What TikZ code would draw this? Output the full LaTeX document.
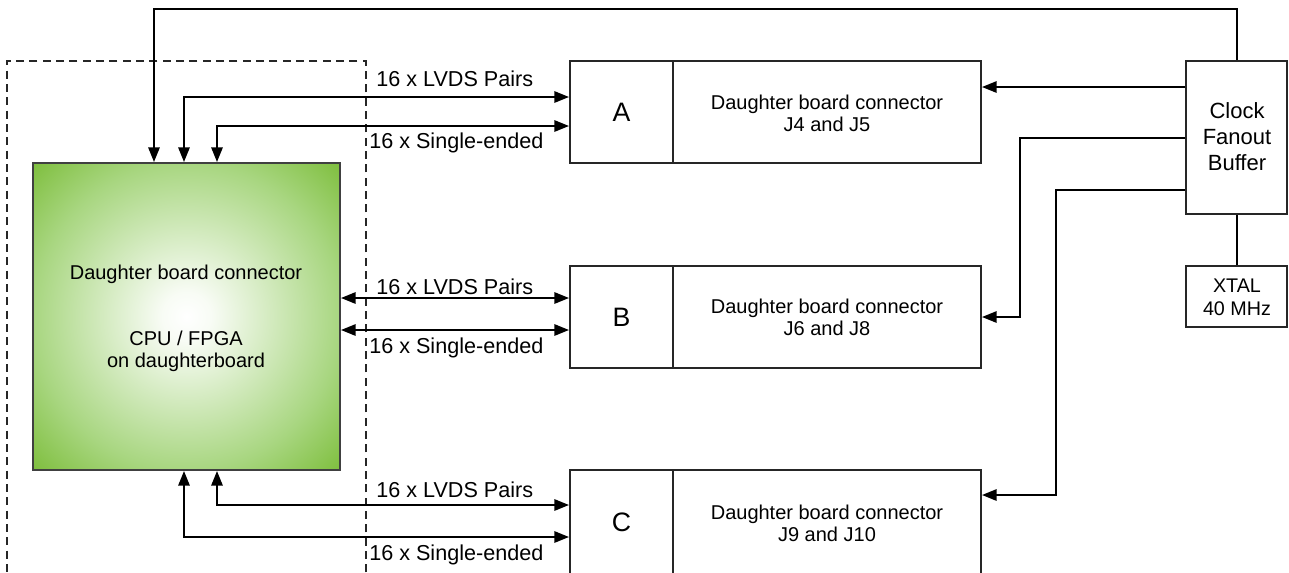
\documentclass[tikz,border=0pt]{standalone}
\usepackage{fontspec}
\setmainfont{Liberation Sans}
\usetikzlibrary{arrows.meta,calc,fit}
\definecolor{gout}{RGB}{124,189,58}
\definecolor{gmid}{RGB}{168,214,128}
\pgfdeclareradialshading{greenrad}{\pgfpoint{0bp}{0bp}}{color(0bp)=(white); color(4bp)=(white!92!gmid); color(25bp)=(gmid); color(36bp)=(gout); color(50bp)=(gout)}
\begin{document}
\begin{tikzpicture}[x=0.75pt,y=-0.75pt,
  box/.style={draw=black!85,line width=1.5pt,inner sep=0pt},
  dashbox/.style={draw=black!85,line width=1.2pt,dash pattern=on 6pt off 4pt,inner sep=0pt},
  wire/.style={line width=1.5pt},
  arr/.style={wire,-{Triangle[length=11pt,width=8.5pt]}},
  arrs/.style={wire,{Triangle[length=11pt,width=8.5pt]}-{Triangle[length=11pt,width=8.5pt]}},
  lbl/.style={font=\fontsize{16.2}{19}\selectfont,anchor=west,inner sep=0pt},
  txt/.style={font=\fontsize{15}{16.5}\selectfont,align=center,inner sep=0pt},
  big/.style={font=\fontsize{20}{24}\selectfont,inner sep=0pt},
  ]
\clip (0,0) rectangle (1289,572);
% board outline
\node[dashbox, fit={(7,61)(366,600)}] (board) {};
% green CPU box
\shade[shading=greenrad] (33,163) rectangle (340,470);
\node[box, draw=black!75, fit={(33,163)(340,470)}] (green) {};
\node[txt] (gt1) at (186,274) {Daughter board connector};
\node[txt] (gt2) at (186,351) {CPU / FPGA\\on daughterboard};
% connector boxes
\node[box, fit={(570,61)(673,163)}] (A) {};
\node[box, fit={(673,61)(981,163)}] (Ad) {};
\node[box, fit={(570,266)(673,368)}] (B) {};
\node[box, fit={(673,266)(981,368)}] (Bd) {};
\node[box, fit={(570,470)(673,574)}] (C) {};
\node[box, fit={(673,470)(981,574)}] (Cd) {};
\node[big] (At) at (A.center) {A};
\node[big] (Bt) at (B.center) {B};
\node[big] (Ct) at (C.center) {C};
\node[txt] (Adt) at (827,113) {Daughter board connector\\J4 and J5};
\node[txt] (Bdt) at (827,317) {Daughter board connector\\J6 and J8};
\node[txt] (Cdt) at (827,523) {Daughter board connector\\J9 and J10};
% clock and xtal
\node[box, fit={(1186,61)(1287,214)}] (clk) {};
\node[font=\fontsize{16.5}{19.5}\selectfont,align=center,inner sep=0pt] (clkt) at (1237,137) {Clock\\Fanout\\Buffer};
\node[box, fit={(1186,266)(1287,327)}] (xt) {};
\node[font=\fontsize{14.8}{17.3}\selectfont,align=center,inner sep=0pt] (xtt) at (1237,297) {XTAL\\40 MHz};
% labels
\node[lbl] (la1) at (376,79) {16 x LVDS Pairs};
\node[lbl] (la2) at (369,143) {16 x Single-ended};
\node[lbl] (lb1) at (376,287) {16 x LVDS Pairs};
\node[lbl] (lb2) at (369,348) {16 x Single-ended};
\node[lbl] (lc1) at (376,490) {16 x LVDS Pairs};
\node[lbl] (lc2) at (369,555) {16 x Single-ended};
% coordinates
\coordinate (a1) at ($(A.west)+(0,-15)$);
\coordinate (a2) at ($(A.west)+(0,14)$);
\coordinate (b1) at ($(B.west)+(0,-19)$);
\coordinate (b2) at ($(B.west)+(0,13)$);
\coordinate (c1) at ($(C.west)+(0,-17)$);
\coordinate (c2) at ($(C.west)+(0,15)$);
\coordinate (k1) at ($(clk.north west)+(0,27)$);
\coordinate (k3) at ($(clk.south west)+(0,-25)$);
\coordinate (c3) at ($(Cd.east)+(0,-27)$);
% wires
\draw[arr] (clk.north) -- ++(0,-51) -| ($(green.north west)+(122,0)$);
\draw[arrs] ($(green.north west)+(152,0)$) |- (a1);
\draw[arrs] ($(green.north west)+(185,0)$) |- (a2);
\draw[arrs] (green.east |- b1) -- (b1);
\draw[arrs] (green.east |- b2) -- (b2);
\draw[arrs] ($(green.south west)+(185,0)$) |- (c1);
\draw[arrs] ($(green.south west)+(152,0)$) |- (c2);
\draw[arr] (k1) -- (Ad.east |- k1);
\draw[arr] (clk.west) -- ++(-165,0) |- (Bd.east);
\draw[arr] (k3) -- ++(-129,0) |- (c3);
\draw[wire] (clk.south) -- (xt.north);
\end{tikzpicture}
\end{document}
